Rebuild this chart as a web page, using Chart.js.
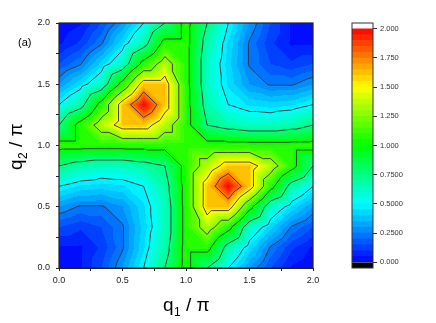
<!DOCTYPE html>
<html>
<head>
<meta charset="utf-8">
<script src="https://cdn.jsdelivr.net/npm/chart.js@4.4.1/dist/chart.umd.min.js"></script>
<style>
  body { margin: 0; background: #fff; }
  #wrap { position: relative; width: 436px; height: 323px; }
  #wrap canvas { position: absolute; left: 0; top: 0; }
</style>
</head>
<body>
<div id="wrap">
  <canvas id="mapChart" width="436" height="323"></canvas>
  <canvas id="barChart" width="436" height="323"></canvas>
</div>
<script>
'use strict'

// grid positions, in units of pi
let q1Values = [0, 0.1667, 0.3333, 0.5, 0.6667, 0.8333, 1.0, 1.1667, 1.3333, 1.5, 1.6667, 1.8333, 2.0];
let q2Values = [0, 0.1667, 0.3333, 0.5, 0.6667, 0.8333, 1.0, 1.1667, 1.3333, 1.5, 1.6667, 1.8333, 2.0];

// intensity, one row per q2 value (bottom row first)
let zRows = [
  [0.00, 0.04, 0.15, 0.30, 0.50, 0.75, 1.07, 0.75, 0.50, 0.30, 0.15, 0.04, 0.00],
  [0.04, 0.04, 0.11, 0.24, 0.44, 0.67, 1.07, 1.07, 0.67, 0.44, 0.24, 0.11, 0.04],
  [0.15, 0.11, 0.15, 0.24, 0.42, 0.62, 1.07, 1.35, 1.07, 0.62, 0.42, 0.24, 0.15],
  [0.30, 0.24, 0.24, 0.30, 0.44, 0.62, 1.07, 1.60, 1.60, 1.07, 0.62, 0.44, 0.30],
  [0.50, 0.44, 0.42, 0.44, 0.50, 0.67, 1.07, 1.60, 2.00, 1.60, 1.07, 0.67, 0.50],
  [0.75, 0.67, 0.62, 0.62, 0.67, 0.75, 1.07, 1.35, 1.60, 1.60, 1.35, 1.07, 0.75],
  [1.07, 1.07, 1.07, 1.07, 1.07, 1.07, 1.07, 1.07, 1.07, 1.07, 1.07, 1.07, 1.07],
  [0.75, 1.07, 1.35, 1.60, 1.60, 1.35, 1.07, 0.75, 0.67, 0.62, 0.62, 0.67, 0.75],
  [0.50, 0.67, 1.07, 1.60, 2.00, 1.60, 1.07, 0.67, 0.50, 0.44, 0.42, 0.44, 0.50],
  [0.30, 0.44, 0.62, 1.07, 1.60, 1.60, 1.07, 0.62, 0.44, 0.30, 0.24, 0.24, 0.30],
  [0.15, 0.24, 0.42, 0.62, 1.07, 1.35, 1.07, 0.62, 0.42, 0.24, 0.15, 0.11, 0.15],
  [0.04, 0.11, 0.24, 0.44, 0.67, 1.07, 1.07, 0.67, 0.44, 0.24, 0.11, 0.04, 0.04],
  [0.00, 0.04, 0.15, 0.30, 0.50, 0.75, 1.07, 0.75, 0.50, 0.30, 0.15, 0.04, 0.00]
];

let contourLevels = [0.25, 0.5, 0.75, 1.0, 1.25, 1.5, 1.75];

let xTickValues = [0, 0.25, 0.5, 0.75, 1.0, 1.25, 1.5, 1.75, 2.0];
let xTickLabels = ['0.0', '', '0.5', '', '1.0', '', '1.5', '', '2.0'];
let yTickValues = [0, 0.25, 0.5, 0.75, 1.0, 1.25, 1.5, 1.75, 2.0];
let yTickLabels = ['0.0', '', '0.5', '', '1.0', '', '1.5', '', '2.0'];

let barTickValues = [0, 0.25, 0.5, 0.75, 1.0, 1.25, 1.5, 1.75, 2.0];
let barTickLabels = ['0.000', '0.2500', '0.5000', '0.7500', '1.000', '1.250', '1.500', '1.750', '2.000'];

let zMin = 0;
let zMax = 2.0;
let zStep = 0.05;

// colour map (blue - cyan - green - yellow - red)
let cmapStops = [0, 0.25, 0.5, 0.75, 1.0, 1.25, 1.5, 1.75, 2.0];
let cmapRGB = [[0, 0, 255], [0, 128, 255], [0, 255, 255], [0, 255, 128], [0, 255, 0],
               [128, 255, 0], [255, 255, 0], [255, 128, 0], [255, 0, 0]];

const FONT = '"Liberation Sans", Arial, Helvetica, sans-serif';

function cmap(v) {
    if (v <= cmapStops[0]) return cmapRGB[0];
    for (let k = 1; k < cmapStops.length; k++) {
        if (v <= cmapStops[k]) {
            let t = (v - cmapStops[k - 1]) / (cmapStops[k] - cmapStops[k - 1]);
            let a = cmapRGB[k - 1], b = cmapRGB[k];
            return [a[0] + t * (b[0] - a[0]), a[1] + t * (b[1] - a[1]), a[2] + t * (b[2] - a[2])];
        }
    }
    return cmapRGB[cmapRGB.length - 1];
}

// filled contour: one flat colour per band
function bandColor(v) {
    if (v < zMin) return [0, 0, 0];
    if (v > zMax + 1e-9) return [255, 255, 255];
    let k = Math.floor((v - zMin) / zStep);
    let nBands = Math.round((zMax - zMin) / zStep);
    if (k >= nBands) k = nBands - 1;
    return cmap(zMin + (k + 0.5) * zStep);
}

function findCell(arr, v) {
    for (let i = 0; i < arr.length - 2; i++) {
        if (v < arr[i + 1]) return i;
    }
    return arr.length - 2;
}

// linear interpolation on triangles (cells split along the anti-diagonal)
function valueAt(qx, qy) {
    let i = findCell(q1Values, qx);
    let j = findCell(q2Values, qy);
    let fx = (qx - q1Values[i]) / (q1Values[i + 1] - q1Values[i]);
    let fy = (qy - q2Values[j]) / (q2Values[j + 1] - q2Values[j]);
    let v00 = zRows[j][i], v10 = zRows[j][i + 1], v01 = zRows[j + 1][i], v11 = zRows[j + 1][i + 1];
    if (fx + fy <= 1) return v00 + fx * (v10 - v00) + fy * (v01 - v00);
    return v11 + (1 - fx) * (v01 - v11) + (1 - fy) * (v10 - v11);
}

function triangleSegment(ctx, xs, ys, tri, level) {
    let pts = [];
    for (let e = 0; e < 3; e++) {
        let A = tri[e], B = tri[(e + 1) % 3];
        if ((A[2] >= level) !== (B[2] >= level)) {
            let t = (level - A[2]) / (B[2] - A[2]);
            pts.push([A[0] + t * (B[0] - A[0]), A[1] + t * (B[1] - A[1])]);
        }
    }
    if (pts.length === 2) {
        ctx.moveTo(xs.getPixelForValue(pts[0][0]), ys.getPixelForValue(pts[0][1]));
        ctx.lineTo(xs.getPixelForValue(pts[1][0]), ys.getPixelForValue(pts[1][1]));
    }
}

function drawSubTitle(ctx, x0, y0, angle, base, sub, rest) {
    ctx.save();
    ctx.translate(x0, y0);
    ctx.rotate(angle);
    ctx.fillStyle = '#000';
    ctx.textAlign = 'left';
    ctx.textBaseline = 'alphabetic';
    ctx.font = '19px ' + FONT;
    ctx.fillText(base, 0, 0);
    let cx = ctx.measureText(base).width + 0.5;
    ctx.font = '12px ' + FONT;
    ctx.fillText(sub, cx, 5);
    cx += ctx.measureText(sub).width;
    ctx.font = '19px ' + FONT;
    ctx.fillText(rest, cx, 0);
    ctx.restore();
}

const mapPlugin = {
    id: 'mapPlugin',
    beforeDatasetsDraw(chart) {
        let ctx = chart.ctx;
        let a = chart.chartArea;
        let xs = chart.scales.x, ys = chart.scales.y;
        let w = Math.round(a.right - a.left), h = Math.round(a.bottom - a.top);
        let img = ctx.createImageData(w, h);
        for (let py = 0; py < h; py++) {
            let qy = ys.getValueForPixel(a.top + py + 0.5);
            for (let px = 0; px < w; px++) {
                let qx = xs.getValueForPixel(a.left + px + 0.5);
                let c = bandColor(valueAt(qx, qy));
                let o = (py * w + px) * 4;
                img.data[o] = c[0];
                img.data[o + 1] = c[1];
                img.data[o + 2] = c[2];
                img.data[o + 3] = 255;
            }
        }
        ctx.putImageData(img, Math.round(a.left), Math.round(a.top));

        // contour lines
        ctx.save();
        ctx.beginPath();
        ctx.rect(a.left, a.top, a.right - a.left, a.bottom - a.top);
        ctx.clip();
        ctx.strokeStyle = '#333';
        ctx.lineWidth = 0.9;
        ctx.beginPath();
        for (let L of contourLevels) {
            for (let j = 0; j < q2Values.length - 1; j++) {
                for (let i = 0; i < q1Values.length - 1; i++) {
                    let p00 = [q1Values[i], q2Values[j], zRows[j][i]];
                    let p10 = [q1Values[i + 1], q2Values[j], zRows[j][i + 1]];
                    let p01 = [q1Values[i], q2Values[j + 1], zRows[j + 1][i]];
                    let p11 = [q1Values[i + 1], q2Values[j + 1], zRows[j + 1][i + 1]];
                    triangleSegment(ctx, xs, ys, [p00, p10, p01], L);
                    triangleSegment(ctx, xs, ys, [p11, p01, p10], L);
                }
            }
        }
        ctx.stroke();
        ctx.restore();
    },
    afterDraw(chart) {
        let ctx = chart.ctx;
        let a = chart.chartArea;
        ctx.save();
        ctx.strokeStyle = '#222';
        ctx.lineWidth = 1.2;
        ctx.strokeRect(a.left, a.top, a.right - a.left, a.bottom - a.top);
        ctx.fillStyle = '#000';
        ctx.font = '11px ' + FONT;
        ctx.fillText('(a)', 18, 46);
        ctx.restore();
        drawSubTitle(ctx, 163, 311, 0, 'q', '1', ' / \u03c0');
        drawSubTitle(ctx, 22, 170, -Math.PI / 2, 'q', '2', ' / \u03c0');
    }
};

const frameBarPlugin = {
    id: 'frameBarPlugin',
    afterDatasetsDraw(chart) {
        let ctx = chart.ctx;
        let a = chart.chartArea;
        ctx.save();
        ctx.strokeStyle = '#333';
        ctx.lineWidth = 1;
        ctx.strokeRect(a.left, a.top, a.right - a.left, a.bottom - a.top);
        ctx.restore();
    }
};

let mapCtx = document.getElementById('mapChart').getContext('2d');
let mapChart = new Chart(mapCtx, {
    type: 'scatter',
    data: { datasets: [{ data: [] }] },
    options: {
        responsive: false,
        animation: false,
        layout: { padding: { left: 0, top: 23, right: 123, bottom: 0 } },
        plugins: { legend: { display: false }, tooltip: { enabled: false } },
        scales: {
            x: {
                type: 'linear', min: 0, max: 2, position: 'bottom',
                afterBuildTicks: s => { s.ticks = xTickValues.map(v => ({ value: v })); },
                afterFit: s => { s.height = 55; },
                ticks: {
                    autoSkip: false, maxRotation: 0, padding: 4, color: '#222',
                    font: { family: FONT, size: 9 },
                    callback: (v, i) => xTickLabels[i]
                },
                grid: { drawOnChartArea: false, tickLength: 3, color: '#222' },
                border: { color: '#222' }
            },
            y: {
                type: 'linear', min: 0, max: 2, position: 'left',
                afterBuildTicks: s => { s.ticks = yTickValues.map(v => ({ value: v })); },
                afterFit: s => { s.width = 59; },
                ticks: {
                    autoSkip: false, padding: 6, color: '#222',
                    font: { family: FONT, size: 9 },
                    callback: (v, i) => yTickLabels[i]
                },
                grid: { drawOnChartArea: false, tickLength: 3, color: '#222' },
                border: { color: '#222' }
            }
        }
    },
    plugins: [mapPlugin]
});

// colour scale bar: one floating bar per band, plus the under/over bands
let bandSets = [];
let nBands = Math.round((zMax - zMin) / zStep);
for (let k = -1; k <= nBands; k++) {
    let lo = zMin + k * zStep;
    let c = bandColor(lo + zStep / 2);
    bandSets.push({
        data: [[lo, lo + zStep]],
        backgroundColor: 'rgb(' + c.map(Math.round).join(',') + ')',
        borderWidth: 0,
        grouped: false,
        barPercentage: 1,
        categoryPercentage: 1
    });
}

let barCtx = document.getElementById('barChart').getContext('2d');
let barChart = new Chart(barCtx, {
    type: 'bar',
    data: { labels: ['z'], datasets: bandSets },
    options: {
        responsive: false,
        animation: false,
        layout: { padding: { left: 352, top: 23, right: 23, bottom: 55 } },
        plugins: { legend: { display: false }, tooltip: { enabled: false } },
        scales: {
            x: { display: false },
            y: {
                min: zMin - zStep, max: zMax + zStep, position: 'right',
                afterBuildTicks: s => { s.ticks = barTickValues.map(v => ({ value: v })); },
                afterFit: s => { s.width = 40; },
                ticks: {
                    autoSkip: false, padding: 3, color: '#333',
                    font: { family: FONT, size: 7.5 },
                    callback: (v, i) => barTickLabels[i]
                },
                grid: { drawOnChartArea: false, tickLength: 4, color: '#333' },
                border: { display: false }
            }
        }
    },
    plugins: [frameBarPlugin]
});
</script>
</body>
</html>
